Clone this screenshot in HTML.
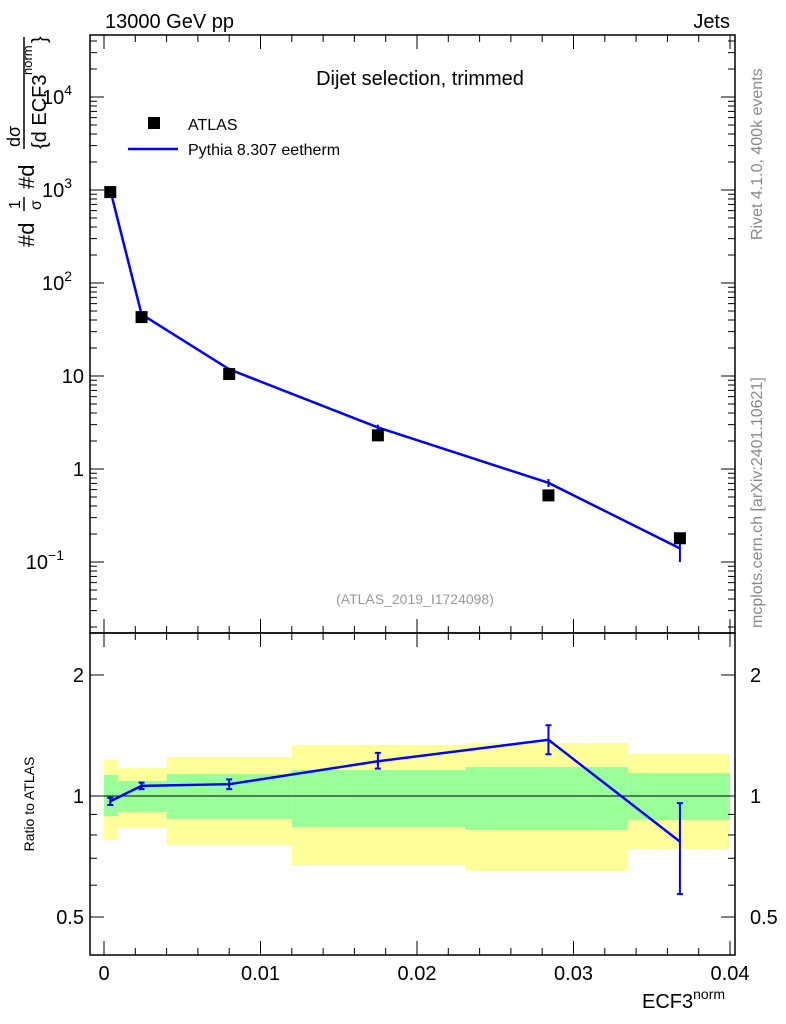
<!DOCTYPE html>
<html><head><meta charset="utf-8"><style>
body{margin:0;background:#fff}
svg{display:block;font-family:"Liberation Sans",sans-serif}
</style></head><body>
<svg id="c" width="786" height="1024" viewBox="0 0 786 1024">
<text x="105" y="28" font-size="20">13000 GeV pp</text>
<text x="730" y="28" font-size="20" text-anchor="end">Jets</text>
<text x="420" y="85" font-size="20" text-anchor="middle">Dijet selection, trimmed</text>
<text x="415" y="604" font-size="14" fill="#999" text-anchor="middle">(ATLAS_2019_I1724098)</text>
<text transform="translate(762,240) rotate(-90)" font-size="16" fill="#888">Rivet 4.1.0,  400k events</text>
<text transform="translate(762,628) rotate(-90)" font-size="16" fill="#888">mcplots.cern.ch [arXiv:2401.10621]</text>
<g transform="translate(34,247) rotate(-90)" font-size="22">
<text x="0" y="0">#d</text><text x="38" y="-14" font-size="16">1</text><line x1="36" y1="-10" x2="50" y2="-10" stroke="#000" stroke-width="1.5"/><text x="37" y="7" font-size="16">σ</text>
<text x="58" y="0">#d</text><text x="100" y="-14" font-size="18">dσ</text><line x1="98" y1="-10" x2="210" y2="-10" stroke="#000" stroke-width="1.5"/><text x="98" y="12" font-size="20">{d ECF3</text><text x="172" y="-2" font-size="13">norm</text><text x="204" y="12" font-size="20">}</text>
</g>
<text x="22" y="800" font-size="14" transform="rotate(-90,30,796)" text-anchor="middle">Ratio to ATLAS</text>
<text x="642" y="1008" font-size="20">ECF3<tspan font-size="14" dy="-9">norm</tspan></text>
<g id="g"></g>
</svg>
<script>
const cats=[0.0004,0.0024,0.008,0.0175,0.0284,0.0368];
const atlas=[950,43,10.5,2.3,0.52,0.18];
const mc=[1000,46,11.8,2.8,0.71,0.14];
const mcErrHi=[1050,48,12.3,3.0,0.78,0.17];
const mcErrLo=[950,44,11.3,2.6,0.64,0.10];
const ratio=[0.97,1.06,1.07,1.22,1.38,0.77];
const ratioHi=[0.99,1.08,1.10,1.28,1.50,0.96];
const ratioLo=[0.95,1.04,1.04,1.17,1.27,0.57];
const binEdges=[0,0.0009,0.004,0.012,0.0231,0.0335,0.04];
const yelHi=[1.23,1.174,1.25,1.34,1.355,1.272];
const yelLo=[0.777,0.833,0.755,0.673,0.651,0.738];
const grnHi=[1.128,1.09,1.134,1.16,1.18,1.14];
const grnLo=[0.892,0.912,0.877,0.837,0.823,0.872];
const xTicks=[0,0.01,0.02,0.03,0.04];
const xTickLabels=["0","0.01","0.02","0.03","0.04"];
const g=document.getElementById('g');
const NS='http://www.w3.org/2000/svg';
function mk(t,a,p){const e=document.createElementNS(NS,t);for(const k in a)e.setAttribute(k,a[k]);(p||g).appendChild(e);return e;}
const X=v=>104+v*15650;
const Y=v=>469-93*Math.log10(v);
const R=v=>796-402*Math.log10(v);
const L=90,Rt=735,T=35,M=633,B=955;
for(let i=0;i<6;i++){
 let e=mk('rect',{x:X(binEdges[i]),y:R(yelHi[i]),width:X(binEdges[i+1])-X(binEdges[i]),height:R(yelLo[i])-R(yelHi[i]),fill:'#ffff99'});
 
 e=mk('rect',{x:X(binEdges[i]),y:R(grnHi[i]),width:X(binEdges[i+1])-X(binEdges[i]),height:R(grnLo[i])-R(grnHi[i]),fill:'#99ff99'});
 
}
let e=mk('line',{x1:L,x2:Rt,y1:R(1),y2:R(1),stroke:'#000','stroke-width':1});

e=mk('rect',{x:L,y:T,width:Rt-L,height:M-T,fill:'none',stroke:'#000','stroke-width':1.5});

e=mk('rect',{x:L,y:M,width:Rt-L,height:B-M,fill:'none',stroke:'#000','stroke-width':1.5});

for(let v=0;v<=0.0401;v+=0.002){const x=X(v);const maj=Math.abs(v/0.01-Math.round(v/0.01))<1e-6;const l=maj?14:7;
 for(const [y0,d] of [[M,-1],[T,1],[B,-1],[M,1]]) mk('line',{x1:x,x2:x,y1:y0,y2:y0+d*l,stroke:'#000'});}
xTicks.forEach((v,i)=>{const t=mk('text',{x:X(v),y:980,'font-size':20,'text-anchor':'middle'});t.textContent=xTickLabels[i];
 });
for(let d=-2;d<=4;d++)for(let k=1;k<10;k++){const v=k*Math.pow(10,d);const y=Y(v);if(y<T||y>M)continue;const l=k==1?14:7;
 mk('line',{x1:L,x2:L+l,y1:y,y2:y,stroke:'#000'});mk('line',{x1:Rt,x2:Rt-l,y1:y,y2:y,stroke:'#000'});}
const yl=[[1e4,'10','4'],[1e3,'10','3'],[100,'10','2'],[10,'10',''],[1,'1',''],[0.1,'10','−1']];
yl.forEach(([v,b,s])=>{const t=mk('text',{x:84,y:Y(v)+7,'font-size':20,'text-anchor':'end'});
 if(s){t.textContent=b;const ts=mk('tspan',{'font-size':14,dy:-9},t);ts.textContent=s;t.setAttribute('x',s.length>1?64:72);}
 else t.textContent=b;
 });
[0.5,0.6,0.7,0.8,0.9,1,2].forEach(v=>{const y=R(v);const l=(v==0.5||v==1||v==2)?14:7;
 mk('line',{x1:L,x2:L+l,y1:y,y2:y,stroke:'#000'});mk('line',{x1:Rt,x2:Rt-l,y1:y,y2:y,stroke:'#000'});});
[[2,'2'],[1,'1'],[0.5,'0.5']].forEach(([v,s])=>{for(const [x,a] of [[84,'end'],[750,'start']]){const t=mk('text',{x:x,y:R(v)+7,'font-size':20,'text-anchor':a});t.textContent=s;
 }});
e=mk('polyline',{points:cats.map((c,i)=>X(c)+','+Y(mc[i])).join(' '),fill:'none',stroke:'#0000ff','stroke-width':2.5});

cats.forEach((c,i)=>{const b=mk('line',{x1:X(c),x2:X(c),y1:Y(mcErrHi[i]),y2:Y(mcErrLo[i]),stroke:'#0000ff','stroke-width':2});
 
 const r=mk('rect',{x:X(c)-6,y:Y(atlas[i])-6,width:12,height:12,fill:'#000'});
 });
e=mk('polyline',{points:cats.map((c,i)=>X(c)+','+R(ratio[i])).join(' '),fill:'none',stroke:'#0000ff','stroke-width':2.5});

cats.forEach((c,i)=>{const b=mk('path',{d:`M${X(c)},${R(ratioHi[i])}V${R(ratioLo[i])}M${X(c)-3},${R(ratioHi[i])}h6M${X(c)-3},${R(ratioLo[i])}h6`,stroke:'#0000ff','stroke-width':2,fill:'none'});
 });
e=mk('rect',{x:148,y:117,width:12,height:12,fill:'#000'});

e=mk('line',{x1:128,x2:178,y1:149,y2:149,stroke:'#0000ff','stroke-width':2.5});

let t=mk('text',{x:188,y:130,'font-size':16});t.textContent='ATLAS';

t=mk('text',{x:188,y:155,'font-size':16});t.textContent='Pythia 8.307 eetherm';

</script>
</body></html>
